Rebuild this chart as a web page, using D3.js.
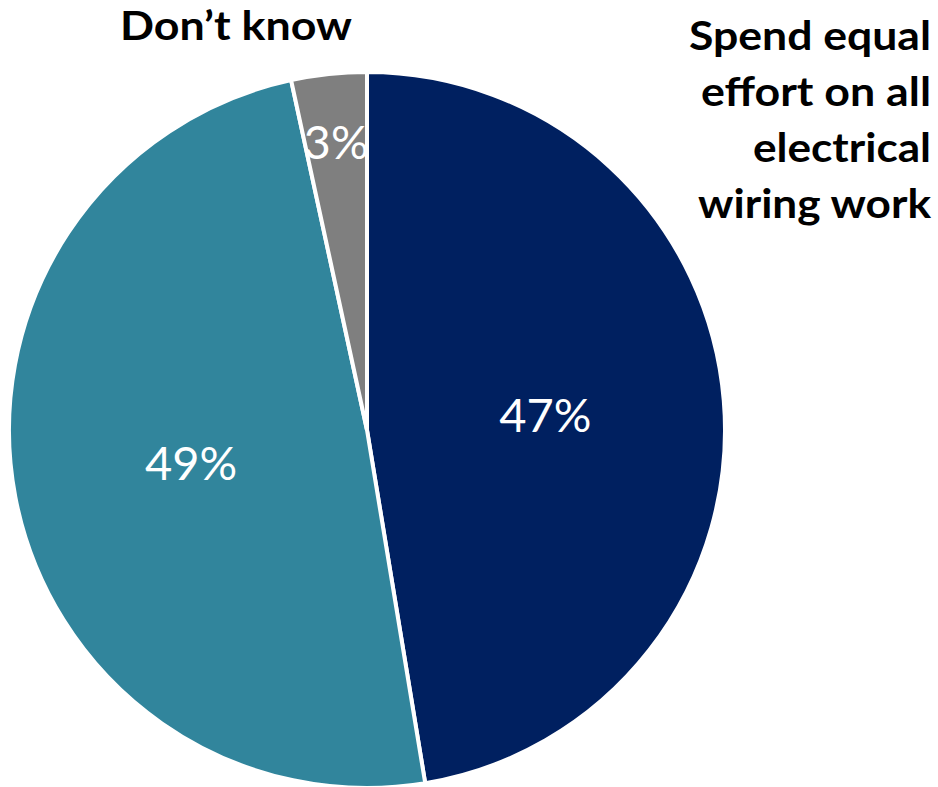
<!DOCTYPE html>
<html>
<head>
<meta charset="utf-8">
<script src="https://cdn.jsdelivr.net/npm/d3@7"></script>
<style>
  html, body { margin: 0; padding: 0; background: #ffffff; }
  svg { display: block; }
</style>
</head>
<body>
<svg id="chart" width="938" height="787"></svg>
<script>
const categories = ["Spend equal effort on all electrical wiring work", "Prioritize", "Don’t know"];
const values = [47.4, 49.2, 3.4];
const valueLabels = ["47%", "49%", "3%"];
const colors = ["#002060", "#31859C", "#7F7F7F"];
const rightLines = ["Spend equal", "effort on all", "electrical", "wiring work"];

const svg = d3.select("#chart");
const cx = 367, cy = 430, r = 358;
const font = "Lato, 'Open Sans', sans-serif";

const pie = d3.pie().sort(null).value(d => d);
const arcs = pie(values);
const arc = d3.arc().innerRadius(0).outerRadius(r);

const g = svg.append("g").attr("transform", `translate(${cx},${cy})`);
g.selectAll("path.slice")
  .data(arcs)
  .enter().append("path")
  .attr("class", "slice")
  .attr("d", arc)
  .attr("fill", (d, i) => colors[i])
  .attr("stroke", "#ffffff")
  .attr("stroke-width", 4)
  .attr("stroke-linejoin", "miter");

const labelRadius = [0.5, 0.5, 0.81];
g.selectAll("text.val")
  .data(arcs)
  .enter().append("text")
  .attr("class", "val")
  .attr("transform", (d, i) => {
    const c = d3.arc().innerRadius(0).outerRadius(r * labelRadius[i] * 2).centroid(d);
    return `translate(${c[0]},${c[1]})`;
  })
  .attr("text-anchor", "middle")
  .attr("dy", "0.36em")
  .attr("fill", "#ffffff")
  .style("font-family", font)
  .style("font-size", "47px")
  .text((d, i) => valueLabels[i]);

// Category labels (widths matched to the reference's Calibri text)
function fitText(sel, w) {
  const n = sel.node();
  const cur = n.getComputedTextLength();
  if (cur < w) sel.attr("textLength", w).attr("lengthAdjust", "spacingAndGlyphs");
}

const dk = svg.append("text")
  .attr("x", 236).attr("y", 40)
  .attr("text-anchor", "middle")
  .style("font-family", font)
  .style("font-weight", "bold")
  .style("font-size", "40px")
  .attr("fill", "#000000")
  .text(categories[2]);
fitText(dk, 232);

const lineWidths = [242, 230, 178, 233];
rightLines.forEach((t, i) => {
  const tt = svg.append("text")
    .attr("x", 931).attr("y", 50 + i * 56)
    .attr("text-anchor", "end")
    .style("font-family", font)
    .style("font-weight", "bold")
    .style("font-size", "41px")
    .attr("fill", "#000000")
    .text(t);
  fitText(tt, lineWidths[i]);
});
</script>
</body>
</html>
